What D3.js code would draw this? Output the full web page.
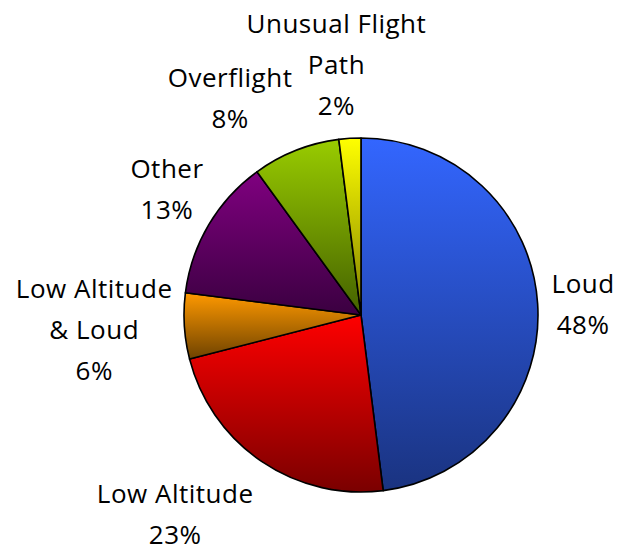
<!DOCTYPE html>
<html>
<head>
<meta charset="utf-8">
<script src="https://cdn.jsdelivr.net/npm/d3@7"></script>
<style>
  body { margin: 0; background: #fff; }
  text { font-family: "Open Sans", Lato, sans-serif; fill: #000; letter-spacing: 0.5px; }
</style>
</head>
<body>
<div id="pie_chart"></div>
<script>
// complaint categories, clockwise from 12 o'clock
const categories = ['Loud', 'Low Altitude', 'Low Altitude & Loud', 'Other', 'Overflight', 'Unusual Flight Path'];
const shares = [48, 23, 6, 13, 8, 2];
// how each label is broken into lines
const labelLines = [['Loud'], ['Low Altitude'], ['Low Altitude', '& Loud'], ['Other'], ['Overflight'], ['Unusual Flight', 'Path']];

// gradient colours (top -> bottom of each slice)
const topColors = ['#3366ff', '#ff0000', '#ff9900', '#800080', '#99cc00', '#ffff00'];
const bottomColors = ['#1a3380', '#7a0000', '#6e4200', '#3a0040', '#446100', '#808000'];
// label nudges, the way the spreadsheet moved them away from each other
const labelNudge = [[1, 3], [-35, 18], [1, 0], [1, -14], [-38, -12], [-7, -10]];

var width = 621, height = 552;
var cx = 361, cy = 315, radius = 177;
var lineGap = 41, capH = 18;

var svg = d3.select('#pie_chart')
    .append('svg')
    .attr('width', width)
    .attr('height', height);

var defs = svg.append('defs');
categories.forEach(function (c, i) {
    var g = defs.append('linearGradient')
        .attr('id', 'grad' + i)
        .attr('x1', 0).attr('y1', 0)
        .attr('x2', 0).attr('y2', 1);
    g.append('stop').attr('offset', '0%').attr('stop-color', topColors[i]);
    g.append('stop').attr('offset', '100%').attr('stop-color', bottomColors[i]);
});

var data = categories.map(function (c, i) { return { name: c, value: shares[i], i: i }; });

var pie = d3.pie()
    .sort(null)
    .value(function (d) { return d.value; });

var arc = d3.arc()
    .innerRadius(0)
    .outerRadius(radius);

var arcs = pie(data);

var g = svg.append('g')
    .attr('transform', 'translate(' + cx + ',' + cy + ')');

g.selectAll('path')
    .data(arcs)
    .enter().append('path')
    .attr('d', arc)
    .attr('fill', function (d) { return 'url(#grad' + d.data.i + ')'; })
    .attr('stroke', '#000')
    .attr('stroke-width', 1.6)
    .attr('stroke-linejoin', 'round');

// labels: name lines + percentage, placed just outside the rim
var labelR = radius + 13;
arcs.forEach(function (d) {
    var i = d.data.i;
    var lines = labelLines[i].concat([d.data.value + '%']);
    var t = g.append('text')
        .attr('text-anchor', 'middle')
        .style('font-size', '26px');
    lines.forEach(function (l) {
        t.append('tspan').text(l);
    });
    var w = d3.max(t.selectAll('tspan').nodes(), function (n) { return n.getComputedTextLength(); });
    var h = capH + (lines.length - 1) * lineGap;
    var a = (d.startAngle + d.endAngle) / 2;
    var sx = Math.sin(a), sy = -Math.cos(a);
    var mx = labelR * sx + w / 2 * sx + labelNudge[i][0];
    var my = labelR * sy + h / 2 * sy + labelNudge[i][1];
    var firstBase = my - h / 2 + capH;
    t.selectAll('tspan')
        .attr('x', mx)
        .attr('y', function (l, k) { return firstBase + k * lineGap; });
});
</script>
</body>
</html>
